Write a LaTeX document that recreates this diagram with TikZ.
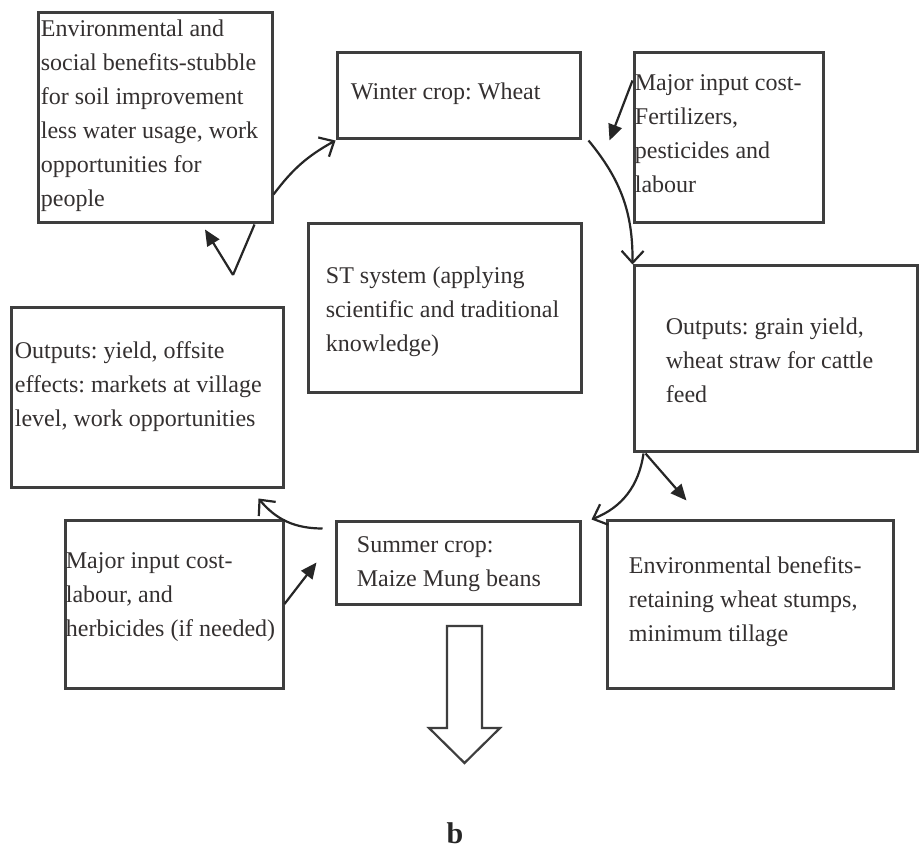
\documentclass[tikz,border=0pt]{standalone}
\usepackage{fontspec}
\setmainfont{Liberation Serif}
\usetikzlibrary{arrows.meta}
\definecolor{ink}{RGB}{52,48,48}
\definecolor{frame}{RGB}{62,62,62}
\frenchspacing

\begin{document}
\begin{tikzpicture}[x=0.5pt,y=-0.5pt,
   box/.style={draw=frame,line width=1.5pt,inner sep=0pt},
   txt/.style={anchor=north west,inner sep=0pt,align=left,text=ink,
               font=\fontsize{12}{17}\selectfont},
   openarrow/.style={line width=1.1pt,draw=black!85,
               -{Straight Barb[length=6pt,width=11pt]}},
   fullarrow/.style={line width=1.1pt,draw=black!85,
               -{Triangle[length=8pt,width=7pt]}}]
   \fill[white] (0,0) rectangle (924,854);
   \useasboundingbox (0,0) rectangle (924,854);

   % boxes
   \node[box,minimum width=117pt,minimum height=105pt] (envsoc) at (155,118) {};
   \node[box,minimum width=121.5pt,minimum height=43pt] (wheat) at (458.5,96) {};
   \node[box,minimum width=94.5pt,minimum height=85pt] (inputwheat) at (728.5,138) {};
   \node[box,minimum width=136.5pt,minimum height=84.5pt] (stsys) at (444.5,308.5) {};
   \node[box,minimum width=141.5pt,minimum height=93pt] (outgrain) at (775.5,359) {};
   \node[box,minimum width=136pt,minimum height=89.5pt] (outyield) at (147,397.5) {};
   \node[box,minimum width=109pt,minimum height=84pt] (inputsummer) at (174,604) {};
   \node[box,minimum width=122pt,minimum height=41.5pt] (summer) at (458,562.5) {};
   \node[box,minimum width=143pt,minimum height=84pt] (envben) at (750,604) {};

   % texts
   \node[txt] (envsoctxt) at ([shift={(4,8)}]envsoc.north west)
      {Environmental and\\social benefits-stubble\\for soil improvement\\less water usage, work\\opportunities for\\people};
   \node[txt] (wheattxt) at ([shift={(15,31)}]wheat.north west) {Winter crop: Wheat};
   \node[txt] (inputwheattxt) at ([shift={(2,23)}]inputwheat.north west)
      {Major input cost-\\Fertilizers,\\pesticides and\\labour};
   \node[txt] (stsystxt) at ([shift={(19,44)}]stsys.north west)
      {ST system (applying\\scientific and traditional\\knowledge)};
   \node[txt] (outgraintxt) at ([shift={(33,53)}]outgrain.north west)
      {Outputs: grain yield,\\wheat straw for cattle\\feed};
   \node[txt] (outyieldtxt) at ([shift={(5,35)}]outyield.north west)
      {Outputs: yield, offsite\\effects: markets at village\\level, work opportunities};
   \node[txt] (inputsummertxt) at ([shift={(2,34)}]inputsummer.north west)
      {Major input cost-\\labour, and\\herbicides (if needed)};
   \node[txt] (summertxt) at ([shift={(22,17)}]summer.north west)
      {Summer crop:\\Maize Mung beans};
   \node[txt] (envbentxt) at ([shift={(23,38)}]envben.north west)
      {Environmental benefits-\\retaining wheat stumps,\\minimum tillage};

   % cycle
   \draw[openarrow] ([yshift=15pt]envsoc.south east) to[bend left=12] (wheat.south west);
   \draw[openarrow] ([xshift=3.5pt]wheat.south east) to[bend left=20] (outgrain.north west);
   \draw[fullarrow] ([yshift=-14.5pt]inputwheat.north west) -- ([xshift=14pt]wheat.south east);
   \draw[openarrow] ([xshift=5.5pt]outgrain.south west) to[bend left=30] ([xshift=5pt]summer.north east);
   \draw[fullarrow] ([xshift=6.5pt]outgrain.south west) -- ([shift={(40.5pt,9pt)}]envben.north west);
   \draw[openarrow] ([shift={(-6pt,-4.5pt)}]summer.north west) to[bend left=25] ([shift={(-13pt,-5pt)}]outyield.south east);
   \draw[fullarrow] (inputsummer.east) -- ([xshift=-9pt]summer.west);

   \coordinate (fork) at (233,275);
   \draw[line width=1.1pt,draw=black!85] (fork) -- ([xshift=-9.5pt]envsoc.south east);
   \draw[fullarrow] (fork) -- ([shift={(25pt,-2.5pt)}]envsoc.south);

   % hollow arrow below summer crop
   \coordinate (down) at (464.5,626);
   \draw[line width=1.1pt,draw=frame] (down) ++(-17.5,0) -- ++(0,102) -- ++(-18,0)
      -- ++(35.5,35) -- ++(35.5,-35) -- ++(-18,0) -- ++(0,-102) -- cycle;

   \node[font=\fontsize{15}{18}\selectfont\bfseries,text=black!85] (panel) at (455,833) {b};
\end{tikzpicture}
\end{document}
